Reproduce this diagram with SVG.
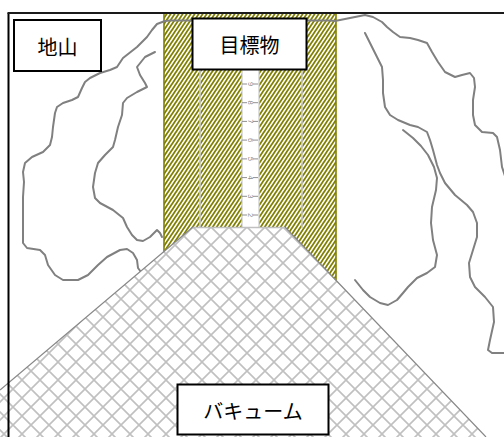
<svg xmlns="http://www.w3.org/2000/svg" width="504" height="437" viewBox="0 0 504 437">
  <style>
    .ground { fill: none; stroke: #808080; stroke-width: 2; stroke-linejoin: round; stroke-linecap: round; }
    .label-box { fill: #ffffff; stroke: #000000; stroke-width: 2; }
    .label { font-family: "Noto Sans CJK JP", "Noto Sans", sans-serif; font-size: 20px; fill: #000000; text-anchor: middle; dominant-baseline: central; }
    .rule { stroke: #c8c8c8; stroke-width: 1.5; fill: none; }
    .tick { stroke: #909090; stroke-width: 1; }
    .num { font-family: "Liberation Sans", sans-serif; font-size: 7.5px; fill: #8c8c8c; text-anchor: middle; dominant-baseline: central; }
  </style>
  <defs>
    <!-- olive diagonal hatch for the target column -->
    <pattern id="oliveHatch" patternUnits="userSpaceOnUse" width="4" height="6">
      <rect width="4" height="6" fill="#ffffff"/>
      <path d="M-1,7.5 L5,-1.5 M-3,4.5 L1,-1.5 M3,7.5 L5,4.5" stroke="#808000" stroke-width="1.8"/>
    </pattern>
    <!-- light grey diamond grid for the vacuum zone -->
    <pattern id="grid" patternUnits="userSpaceOnUse" width="18" height="18" x="4" y="2">
      <rect width="18" height="18" fill="#ffffff"/>
      <path d="M0,0 L18,18 M18,0 L0,18" stroke="#c0c0c0" stroke-width="1.6"/>
    </pattern>
  </defs>

  <!-- target column -->
  <g id="column">
    <rect x="164" y="13" width="172" height="290" fill="url(#oliveHatch)"/>
    <line x1="164" y1="13" x2="164" y2="260" stroke="#808000" stroke-width="1.6"/>
    <line x1="336" y1="13" x2="336" y2="290" stroke="#808000" stroke-width="1.6"/>
    <line class="rule" x1="200" y1="60" x2="200" y2="228"/>
    <line class="rule" x1="302" y1="60" x2="302" y2="228"/>
    <!-- measuring strip -->
    <rect x="242" y="55" width="17" height="173" fill="#ffffff" stroke="#c8c8c8" stroke-width="1.2"/>
    <g id="scale">
      <line class="tick" x1="242" y1="65.3" x2="247" y2="65.3"/><line class="tick" x1="253" y1="65.3" x2="258" y2="65.3"/>
      <line class="tick" x1="242" y1="84" x2="247" y2="84"/><line class="tick" x1="253" y1="84" x2="258" y2="84"/>
      <line class="tick" x1="242" y1="102.7" x2="247" y2="102.7"/><line class="tick" x1="253" y1="102.7" x2="258" y2="102.7"/>
      <line class="tick" x1="242" y1="121.4" x2="247" y2="121.4"/><line class="tick" x1="253" y1="121.4" x2="258" y2="121.4"/>
      <line class="tick" x1="242" y1="140.1" x2="247" y2="140.1"/><line class="tick" x1="253" y1="140.1" x2="258" y2="140.1"/>
      <line class="tick" x1="242" y1="158.9" x2="247" y2="158.9"/><line class="tick" x1="253" y1="158.9" x2="258" y2="158.9"/>
      <line class="tick" x1="242" y1="177.6" x2="247" y2="177.6"/><line class="tick" x1="253" y1="177.6" x2="258" y2="177.6"/>
      <line class="tick" x1="242" y1="196.3" x2="247" y2="196.3"/><line class="tick" x1="253" y1="196.3" x2="258" y2="196.3"/>
      <line class="tick" x1="242" y1="215" x2="247" y2="215"/><line class="tick" x1="253" y1="215" x2="258" y2="215"/>
      <text class="num" transform="translate(250,65.3) rotate(90)">0</text>
      <text class="num" transform="translate(250,84) rotate(90)">9</text>
      <text class="num" transform="translate(250,102.7) rotate(90)">8</text>
      <text class="num" transform="translate(250,121.4) rotate(90)">7</text>
      <text class="num" transform="translate(250,140.1) rotate(90)">6</text>
      <text class="num" transform="translate(250,158.9) rotate(90)">5</text>
      <text class="num" transform="translate(250,177.6) rotate(90)">4</text>
      <text class="num" transform="translate(250,196.3) rotate(90)">3</text>
      <text class="num" transform="translate(250,215) rotate(90)">2</text>
    </g>
  </g>

  <!-- ground outlines -->
  <g id="ground">
    <path class="ground" d="M141,272 L138,268 L137,260 L133,253 L127,249 L120,250 L107,257 L98,265 L88,275 L78,280 L63,280 L55,275 L48,265 L45,255 L40,250 L27,248 L23,243 L23,210 L23,197 L24,182 L23,172 L25,163 L32,157 L43,152 L50,145 L52,137 L53,127 L55,113 L57,107 L63,103 L72,100 L78,97 L82,88 L85,82 L90,78 L100,73 L110,70 L117,67 L123,58 L137,47 L147,37 L152,30 L157,24 L165,21 L170,20.5 L330,20.5 L335,21 L350,18 L365,15 L373,17 L382,22 L387,27 L393,32 L400,37 L410,38 L418,40 L427,43 L432,52 L438,62 L445,72 L455,77 L462,75 L470,73 L474,78 L475,87 L473,100 L473,115 L475,125 L482,132 L493,133 L497,137 L500,150 L502,167 L505,176"/>
    <path class="ground" d="M162,237 L160,233 L157,230 L150,237 L143,241 L137,240 L132,235 L127,227 L123,218 L113,210 L100,203 L95,198 L93,187 L95,173 L98,163 L105,155 L113,147 L115,140 L118,127 L122,115 L123,103 L127,98 L137,92 L147,87 L145,83 L140,75 L137,67 L145,57 L155,52"/>
    <path class="ground" d="M365,33 L370,43 L377,57 L382,67 L383,80 L383,93 L385,107 L390,115 L398,120 L410,125 L418,127 L427,132 L430,140 L433,150 L437,165 L440,173 L445,183 L455,195 L467,205 L473,212 L477,223 L477,237 L473,250 L469,263 L470,277 L475,287 L485,297 L493,307 L494,322 L490,340 L488,350 L492,353 L505,353"/>
    <path class="ground" d="M403,130 L413,138 L421,146 L428,155 L434,167 L437,178 L436,190 L432,207 L431,223 L433,240 L437,255 L435,267 L427,273 L417,278 L408,287 L403,293 L397,300 L388,305 L380,303 L370,297 L363,290 L355,280"/>
  </g>

  <!-- vacuum zone -->
  <g id="vacuum-zone">
    <polygon points="193,227 285,227 486,437 0,437 0,390" fill="url(#grid)" stroke="none"/>
    <line x1="193" y1="227.5" x2="285" y2="227.5" stroke="#c0c0c0" stroke-width="1.5"/>
    <path d="M193,227 L0,390 M285,227 L486,437" stroke="#888888" stroke-width="1.2" fill="none"/>
  </g>

  <!-- frame -->
  <g id="frame">
    <line x1="8.5" y1="13" x2="8.5" y2="437" stroke="#000000" stroke-width="2"/>
    <line x1="7.5" y1="13" x2="504" y2="13" stroke="#1a1a1a" stroke-width="2"/>
  </g>

  <!-- labels -->
  <g id="label-jiyama">
    <rect class="label-box" x="14" y="20" width="87" height="51"/>
    <text class="label" x="57.5" y="46">地山</text>
  </g>
  <g id="label-target">
    <rect class="label-box" x="192.5" y="18.5" width="114" height="51"/>
    <text class="label" x="249.5" y="44.5">目標物</text>
  </g>
  <g id="label-vacuum">
    <rect class="label-box" x="177.5" y="384.5" width="151" height="50"/>
    <text class="label" x="253" y="410">バキューム</text>
  </g>
</svg>
